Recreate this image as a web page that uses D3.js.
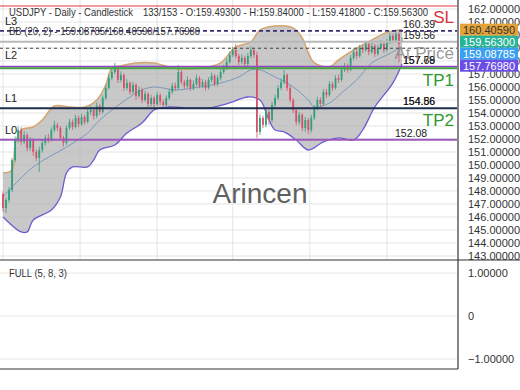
<!DOCTYPE html>
<html>
<head>
<meta charset="utf-8">
<title>USDJPY Daily</title>
<script src="https://cdn.jsdelivr.net/npm/d3@7"></script>
<style>
  body { margin: 0; background: #fff; }
  svg { display: block; font-family: 'Liberation Sans', Arial, sans-serif; }
</style>
</head>
<body>
<svg width="520" height="390"></svg>
<script>
// ---- data ----
const opens = [147.77,146.69,147.31,148.08,150.38,151.92,152.69,151.77,152.31,151.31,
  151.92,151.00,150.54,151.15,151.69,152.08,151.92,152.69,153.08,152.85,
  152.08,151.69,152.85,153.31,152.92,153.62,153.15,153.69,153.31,154.08,
  154.23,153.77,154.54,154.08,155.15,155.92,156.69,157.15,157.46,156.54,
  156.92,155.92,156.31,155.62,156.15,155.31,155.77,155.00,155.46,154.69,
  155.15,154.69,155.38,154.85,154.62,155.15,155.62,156.08,155.92,157.15,
  156.38,156.08,156.54,155.92,156.23,156.69,156.08,156.38,155.92,156.54,
  156.85,156.23,156.69,157.15,157.46,157.92,158.46,158.85,158.38,157.92,
  158.23,157.77,158.38,158.85,158.46,152.54,153.62,153.08,154.08,153.46,
  154.62,155.15,155.92,156.38,156.92,155.92,155.00,154.23,153.31,153.85,
  152.85,153.46,152.69,153.62,154.38,155.00,154.69,155.62,155.38,156.23,
  155.92,156.69,156.54,157.31,157.62,157.31,158.23,158.69,158.38,159.00,
  158.85,159.31,158.69,159.15,158.54,159.00,159.31,158.85,159.46,159.92,
  159.62,160.08,159.493]
const highs = [147.95,147.50,148.30,150.55,152.20,152.95,152.90,152.60,152.45,152.15,
  152.05,151.20,151.40,151.90,152.30,152.40,152.90,153.40,153.25,153.00,
  152.25,153.05,153.55,153.50,153.85,153.80,153.95,153.85,154.30,154.55,
  154.40,154.80,154.70,155.35,156.20,156.95,157.40,157.85,157.60,157.20,
  157.05,156.60,156.45,156.40,156.30,156.05,155.95,155.70,155.60,155.40,
  155.30,155.60,155.50,155.05,155.35,155.85,156.30,156.35,157.69,157.30,
  156.55,156.80,156.65,156.50,156.95,156.85,156.60,156.55,156.75,157.10,
  157.00,156.90,157.40,157.70,158.20,158.70,159.10,159.31,158.55,158.50,
  158.40,158.60,159.10,159.00,158.70,153.90,153.80,154.30,154.20,154.85,
  155.40,156.15,156.65,157.31,157.05,156.10,155.15,154.40,154.10,154.00,
  153.70,153.60,153.85,154.60,155.25,155.20,155.85,155.85,156.45,156.40,
  156.90,156.95,157.55,157.85,157.80,158.45,158.95,158.90,159.25,159.20,
  159.55,159.45,159.40,159.30,159.25,159.60,159.45,159.70,160.15,160.10,
  160.39,160.20,159.84]
const lows = [146.40,146.30,147.10,147.90,150.20,151.70,151.55,151.60,151.05,151.10,
  150.70,150.30,149.45,150.95,151.50,151.70,151.80,152.50,152.60,151.90,
  151.40,151.55,152.70,152.70,152.80,152.90,153.00,153.10,153.20,153.85,
  153.50,153.60,153.85,153.95,155.00,155.80,156.50,157.00,156.30,156.35,
  155.70,155.75,155.40,155.45,155.00,155.15,154.75,154.85,154.45,154.50,
  154.40,154.55,154.60,154.40,154.50,155.00,155.45,155.70,155.80,156.20,
  155.85,155.90,155.70,155.75,156.05,155.90,155.90,155.70,155.80,156.35,
  156.05,156.05,156.50,157.00,157.30,157.80,158.30,158.20,157.70,157.75,
  157.55,157.60,158.20,158.25,152.08,152.30,152.85,152.90,153.10,153.30,
  154.45,155.00,155.75,156.20,155.70,154.80,154.00,153.05,153.10,152.60,
  152.55,152.40,152.50,153.45,154.20,154.45,154.55,155.15,155.25,155.70,
  155.80,156.30,156.40,157.15,157.10,157.20,158.05,158.15,158.25,158.60,
  158.70,158.45,158.55,158.30,158.40,158.85,158.60,158.70,159.30,159.40,
  159.50,157.90,159.418]
const closes = [146.69,147.31,148.08,150.38,151.92,152.69,151.77,152.31,151.31,151.92,
  151.00,150.54,151.15,151.69,152.08,151.92,152.69,153.08,152.85,152.08,
  151.69,152.85,153.31,152.92,153.62,153.15,153.69,153.31,154.08,154.23,
  153.77,154.54,154.08,155.15,155.92,156.69,157.15,157.46,156.54,156.92,
  155.92,156.31,155.62,156.15,155.31,155.77,155.00,155.46,154.69,155.15,
  154.69,155.38,154.85,154.62,155.15,155.62,156.08,155.92,157.15,156.38,
  156.08,156.54,155.92,156.23,156.69,156.08,156.38,155.92,156.54,156.85,
  156.23,156.69,157.15,157.46,157.92,158.46,158.85,158.38,157.92,158.23,
  157.77,158.38,158.85,158.46,152.54,153.62,153.08,154.08,153.46,154.62,
  155.15,155.92,156.38,156.92,155.92,155.00,154.23,153.31,153.85,152.85,
  153.46,152.69,153.62,154.38,155.00,154.69,155.62,155.38,156.23,155.92,
  156.69,156.54,157.31,157.62,157.31,158.23,158.69,158.38,159.00,158.85,
  159.31,158.69,159.15,158.54,159.00,159.31,158.85,159.46,159.92,159.62,
  160.08,159.30,159.563]

// Bollinger (20, 2) read at candle indices
const bbUpperAt = [0,3,4,6,10,13,17,22,27,31,34,36,39,44,50,56,61,68,72,77,82,85,90,96,99,101,103,108,111,116,122,127,132]
const bbUpper = [149.38,149.62,151.54,152.69,152.92,153.46,154.54,154.46,154.46,155.0,156.15,157.46,157.62,157.85,157.85,157.46,157.38,157.54,157.85,159.08,159.46,160.38,160.69,160.54,159.77,158.62,157.85,157.54,158.08,158.85,159.62,160.2,160.41]
const bbLowerAt = [0,6,8,10,16,19,21,23,28,30,32,37,41,46,50,55,61,68,75,81,85,88,90,93,97,101,106,111,116,119,123,129,132]
const bbLower = [146.0,144.85,144.85,145.77,146.54,147.54,149.38,149.85,149.85,150.38,151.15,151.54,152.46,153.23,154.23,154.46,154.38,154.38,154.77,155.23,155.0,153.46,152.69,152.54,151.92,151.15,151.77,152.08,151.92,152.69,154.46,156.31,157.77]
const bbMidAt = [0,10,21,28,32,42,46,50,57,63,72,78,82,85,90,96,101,103,108,112,117,122,127,132]
const bbMid = [147.54,149.85,151.38,152.46,153.46,155.23,155.77,156.0,155.77,155.92,156.31,156.77,157.31,157.31,156.77,156.0,155.0,154.46,154.77,155.54,156.54,157.85,158.46,159.09]

const priceTicks = [143,144,145,146,147,148,149,150,151,152,153,154,155,156,157,158,159,160,161,162]
const gridAt = [0, 25.5, 51, 76, 101.5, 127]
const oscTicks = [-1, 0, 1]

const levelNames = ['SL', 'L3', 'Last', 'AtPrice', 'L2', 'TP1', 'L1', 'L0']
const levelValues = [162.23, 160.31, 159.48, 158.98, 157.56, 157.44, 154.36, 151.94]
const levelTags = [['160.39', 'L3'], ['159.56', 'Last'], ['157.78', 'L2'], ['157.69', 'L2'], ['154.86', 'L1'], ['154.56', 'L1'], ['152.08', 'L0']]

const boxNames = ['160.40590', '159.56300', '159.08785', '157.76980']
const boxValues = [160.40590, 159.56300, 159.08785, 157.76980]

// ---- layout ----
const svg = d3.select('svg')
const plotRight = 457
const mainBottom = 260
const lowBottom = 369

const x = d3.scaleLinear().domain([0, 132]).range([3, 402])
const y = d3.scaleLinear().domain([142.69, 162.69]).range([mainBottom, 0])
const yOsc = d3.scaleLinear().domain([-1, 1]).range([359, 273])

svg.append('defs').append('clipPath').attr('id', 'clip')
  .append('rect').attr('x', 0).attr('y', 0).attr('width', plotRight).attr('height', mainBottom)

const main = svg.append('g').attr('clip-path', 'url(#clip)')

// grid
main.append('g').selectAll('line').data(priceTicks).join('line')
  .attr('x1', 0).attr('x2', plotRight)
  .attr('y1', d => y(d)).attr('y2', d => y(d))
  .attr('stroke', '#e4e4e4').attr('stroke-width', 1)
main.append('g').selectAll('line').data(gridAt).join('line')
  .attr('x1', d => x(d)).attr('x2', d => x(d))
  .attr('y1', 0).attr('y2', mainBottom)
  .attr('stroke', '#e4e4e4').attr('stroke-width', 1)

// bollinger band
const curve = d3.line().curve(d3.curveCatmullRom.alpha(0.5))
const upPts = bbUpperAt.map((d, i) => [x(d), y(bbUpper[i])])
const loPts = bbLowerAt.map((d, i) => [x(d), y(bbLower[i])])
const midPts = bbMidAt.map((d, i) => [x(d), y(bbMid[i])])
main.append('path')
  .attr('d', curve(upPts) + 'L' + curve(loPts.slice().reverse()).slice(1) + 'Z')
  .attr('fill', '#b3b3b3').attr('fill-opacity', 0.72)
main.append('path').attr('d', curve(upPts)).attr('fill', 'none')
  .attr('stroke', '#d5a56e').attr('stroke-width', 1.5)
main.append('path').attr('d', curve(loPts)).attr('fill', 'none')
  .attr('stroke', '#6c5cd0').attr('stroke-width', 1.3)
main.append('path').attr('d', curve(midPts)).attr('fill', 'none')
  .attr('stroke', '#7b98bd').attr('stroke-width', 1)

// watermark
svg.append('text').attr('x', 260).attr('y', 203).attr('text-anchor', 'middle')
  .attr('font-size', 28).attr('fill', '#5f5f5f').text('Arincen')

// candles
const candles = closes.map((c, i) => ({ i, o: opens[i], h: highs[i], l: lows[i], c }))
const cg = main.append('g')
cg.selectAll('line').data(candles).join('line')
  .attr('x1', d => x(d.i)).attr('x2', d => x(d.i))
  .attr('y1', d => y(d.h)).attr('y2', d => y(d.l))
  .attr('stroke', d => d.c >= d.o ? '#2f9f7c' : '#d9506a').attr('stroke-width', 0.8)
cg.selectAll('rect').data(candles).join('rect')
  .attr('x', d => x(d.i) - 0.9).attr('width', 1.8)
  .attr('y', d => y(Math.max(d.o, d.c)))
  .attr('height', d => Math.max(0.8, Math.abs(y(d.o) - y(d.c))))
  .attr('fill', d => d.c >= d.o ? '#2f9f7c' : '#d9506a')

// level lines
const levelStyle = {
  SL: { color: '#e0383e', width: 1.2 },
  L3: { color: '#3a2c78', width: 1.8, dash: '4,3' },
  Last: { color: '#b8b8b8', width: 2 },
  AtPrice: { color: '#444', width: 1.2, dash: '3,3' },
  L2: { color: '#9a42c6', width: 1.8 },
  TP1: { color: '#45a645', width: 1.8 },
  L1: { color: '#1e2c4e', width: 2 },
  L0: { color: '#9a58b8', width: 1.8 }
}
const level = name => levelValues[levelNames.indexOf(name)]
main.append('g').selectAll('line').data(levelNames).join('line')
  .attr('x1', 0).attr('x2', plotRight)
  .attr('y1', d => y(level(d))).attr('y2', d => y(level(d)))
  .attr('stroke', d => levelStyle[d].color)
  .attr('stroke-width', d => levelStyle[d].width)
  .attr('stroke-dasharray', d => levelStyle[d].dash || null)

// left labels
const txt = svg.append('g').attr('fill', '#222')
;['L3', 'L2', 'L1', 'L0'].forEach(n => {
  txt.append('text').attr('x', 5).attr('y', y(level(n)) - (n === 'L2' ? 8 : 6))
    .attr('font-size', 11).text(n)
})
txt.append('text').attr('x', 9).attr('y', 16).attr('font-size', 11).attr('fill', '#333')
  .attr('textLength', 124).attr('lengthAdjust', 'spacingAndGlyphs')
  .text('USDJPY - Daily - Candlestick')
txt.append('text').attr('x', 143).attr('y', 16).attr('font-size', 11).attr('fill', '#333')
  .attr('textLength', 285).attr('lengthAdjust', 'spacingAndGlyphs')
  .text('133/153 - O:159.49300 - H:159.84000 - L:159.41800 - C:159.56300')
txt.append('text').attr('x', 9).attr('y', 35).attr('font-size', 11).attr('fill', '#333')
  .attr('textLength', 191).attr('lengthAdjust', 'spacingAndGlyphs')
  .text('BB (20, 2) - 159.08785/160.40590/157.76980')

// small level tags
txt.selectAll('.tag').data(levelTags).join('text').attr('class', 'tag')
  .attr('x', d => d[1] === 'L0' ? 395 : 403)
  .attr('y', d => y(level(d[1])) - 3)
  .attr('font-size', 10.5).attr('fill', '#1a1a1a').text(d => d[0])

// big right labels
svg.append('text').attr('x', 454).attr('y', y(level('SL')) + 17).attr('text-anchor', 'end')
  .attr('font-size', 17).attr('fill', '#d8333b').text('SL')
svg.append('text').attr('x', 454).attr('y', y(level('AtPrice')) + 11).attr('text-anchor', 'end')
  .attr('font-size', 17).attr('fill', '#888').attr('fill-opacity', 0.85).text('At Price')
svg.append('text').attr('x', 454).attr('y', y(level('TP1')) + 18).attr('text-anchor', 'end')
  .attr('font-size', 17).attr('fill', '#2e9a2e').text('TP1')
svg.append('text').attr('x', 454).attr('y', y(level('L1')) + 18).attr('text-anchor', 'end')
  .attr('font-size', 17).attr('fill', '#2e9a2e').text('TP2')

// right price axis
const axis = svg.append('g').attr('transform', `translate(${plotRight + 2},0)`)
  .call(d3.axisRight(y).tickValues(priceTicks).tickSize(0).tickPadding(9).tickFormat(d3.format('.5f')))
axis.select('.domain').remove()
axis.selectAll('text').attr('font-size', 11).attr('fill', '#333')
  .attr('font-family', "'Liberation Sans', Arial, sans-serif")

// current value boxes, pushed apart so they do not overlap
const boxColors = ['#e4a43a', '#27b396', '#3a9ff0', '#6a4ee6']
const boxText = ['#333', '#fff', '#fff', '#fff']
let lastY = -Infinity
const boxes = boxValues.map((v, i) => {
  const cy = Math.max(y(v), lastY + 12)
  lastY = cy
  return { i, cy }
})
const bg = svg.append('g')
bg.selectAll('rect').data(boxes).join('rect')
  .attr('x', 460).attr('y', d => d.cy - 6).attr('width', 58).attr('height', 12)
  .attr('fill', d => boxColors[d.i])
bg.selectAll('text').data(boxes).join('text')
  .attr('x', 463).attr('y', d => d.cy + 4).attr('font-size', 11)
  .attr('fill', d => boxText[d.i]).text(d => boxNames[d.i])

// oscillator panel
const low = svg.append('g')
low.selectAll('line').data(oscTicks).join('line')
  .attr('x1', 0).attr('x2', plotRight)
  .attr('y1', d => yOsc(d)).attr('y2', d => yOsc(d))
  .attr('stroke', '#e8e8e8')
const oscAxis = svg.append('g').attr('transform', `translate(${plotRight + 2},0)`)
  .call(d3.axisRight(yOsc).tickValues(oscTicks).tickSize(0).tickPadding(9)
    .tickFormat(d => d === 0 ? '0' : d3.format('.5f')(d)))
oscAxis.select('.domain').remove()
oscAxis.selectAll('text').attr('font-size', 11).attr('fill', '#333')
  .attr('font-family', "'Liberation Sans', Arial, sans-serif")
low.append('text').attr('x', 9).attr('y', 277).attr('font-size', 11).attr('fill', '#333')
  .attr('textLength', 58).attr('lengthAdjust', 'spacingAndGlyphs')
  .text('FULL (5, 8, 3)')

// frames
const frame = svg.append('g').attr('stroke', '#333').attr('stroke-width', 1.2)
frame.append('line').attr('x1', 0).attr('x2', 520).attr('y1', mainBottom).attr('y2', mainBottom)
frame.append('line').attr('x1', plotRight + 1).attr('x2', plotRight + 1).attr('y1', 0).attr('y2', lowBottom)
frame.append('line').attr('x1', 0).attr('x2', plotRight + 1).attr('y1', lowBottom).attr('y2', lowBottom)
</script>
</body>
</html>
